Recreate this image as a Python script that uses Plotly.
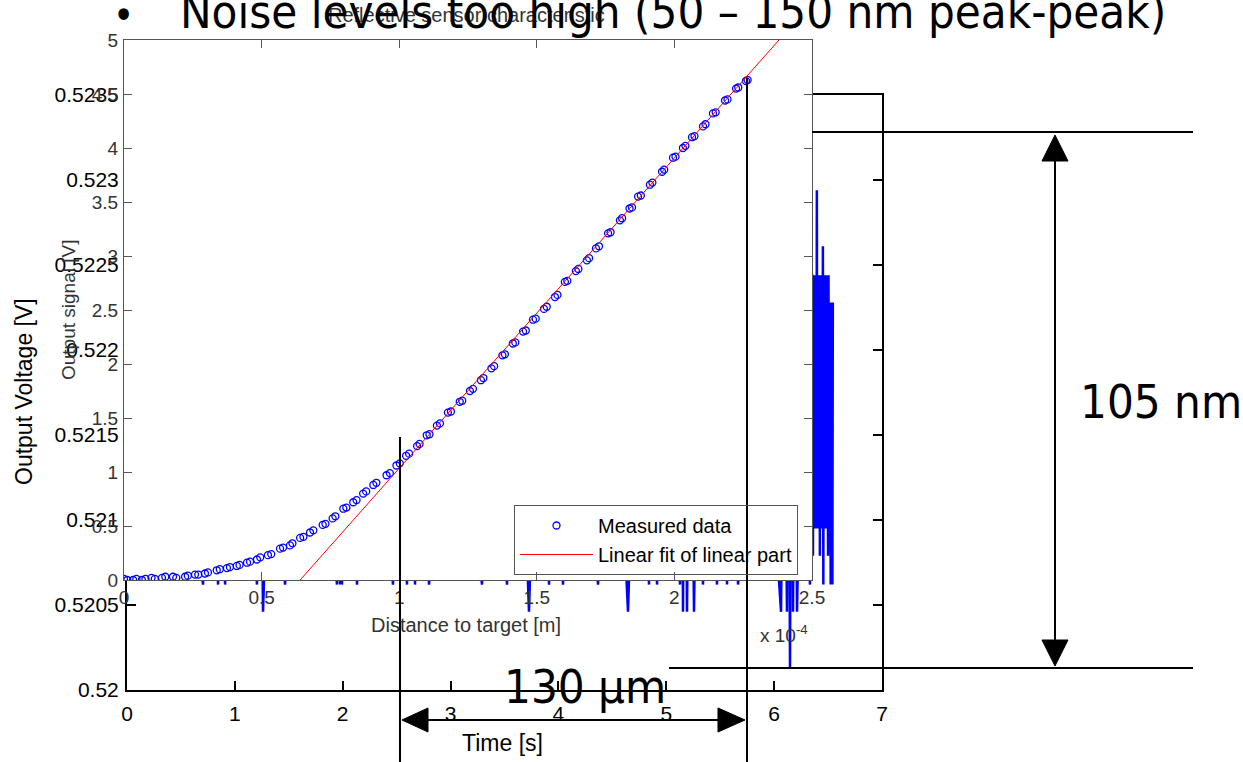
import plotly.graph_objects as go

W, H = 1243, 762

# reflective sensor characteristic, distance in units of 1e-4 m
dist_run1 = [0.000, 0.033, 0.065, 0.100, 0.138, 0.178, 0.222, 0.258, 0.294, 0.337,
             0.374, 0.410, 0.447, 0.483, 0.523, 0.567, 0.603, 0.640, 0.676, 0.722,
             0.758, 0.797, 0.833, 0.869, 0.906, 0.954, 0.990, 1.025, 1.065, 1.100,
             1.137, 1.177, 1.220, 1.257, 1.297, 1.335, 1.375, 1.413, 1.450, 1.486,
             1.526, 1.566, 1.602, 1.642, 1.682, 1.715, 1.759, 1.802, 1.837, 1.868,
             1.911, 1.955, 1.995, 2.031, 2.064, 2.104, 2.140, 2.184, 2.224, 2.260]
volt_run1 = [0.01, 0.00, 0.00, 0.02, 0.02, 0.03, 0.03, 0.05, 0.06, 0.09,
             0.11, 0.13, 0.16, 0.19, 0.23, 0.29, 0.32, 0.39, 0.44, 0.51,
             0.57, 0.66, 0.72, 0.80, 0.88, 0.97, 1.06, 1.15, 1.24, 1.34,
             1.43, 1.55, 1.65, 1.75, 1.85, 1.96, 2.08, 2.19, 2.30, 2.41,
             2.51, 2.62, 2.76, 2.86, 2.96, 3.07, 3.21, 3.33, 3.44, 3.55,
             3.66, 3.78, 3.91, 4.00, 4.10, 4.20, 4.32, 4.44, 4.55, 4.62]
dist_run2 = [0.012, 0.045, 0.078, 0.112, 0.150, 0.190, 0.232, 0.270, 0.305, 0.348,
             0.385, 0.420, 0.458, 0.495, 0.535, 0.578, 0.612, 0.652, 0.688, 0.732,
             0.768, 0.808, 0.845, 0.880, 0.917, 0.966, 1.002, 1.036, 1.074, 1.110,
             1.148, 1.188, 1.229, 1.268, 1.306, 1.345, 1.384, 1.422, 1.460, 1.496,
             1.536, 1.575, 1.611, 1.651, 1.690, 1.726, 1.768, 1.810, 1.846, 1.878,
             1.920, 1.963, 2.004, 2.040, 2.073, 2.113, 2.150, 2.193, 2.232, 2.266]
volt_run2 = [0.00, 0.01, 0.01, 0.01, 0.03, 0.02, 0.04, 0.05, 0.07, 0.10,
             0.12, 0.14, 0.17, 0.21, 0.24, 0.30, 0.34, 0.40, 0.46, 0.52,
             0.59, 0.67, 0.74, 0.82, 0.90, 0.99, 1.08, 1.17, 1.26, 1.35,
             1.45, 1.56, 1.66, 1.77, 1.87, 1.98, 2.09, 2.20, 2.31, 2.42,
             2.53, 2.64, 2.77, 2.88, 2.98, 3.09, 3.22, 3.35, 3.45, 3.56,
             3.68, 3.80, 3.92, 4.02, 4.11, 4.22, 4.33, 4.45, 4.56, 4.63]

# linear fit of the linear part
fit_dist = [0.64, 2.38]
fit_volt = [0.0, 5.0]

dist_ticks = [0, 0.5, 1, 1.5, 2, 2.5]
dist_labels = ["0", "0.5", "1", "1.5", "2", "2.5"]
signal_ticks = [0, 0.5, 1, 1.5, 2, 2.5, 3, 3.5, 4, 4.5, 5]
signal_labels = ["0", "0.5", "1", "1.5", "2", "2.5", "3", "3.5", "4", "4.5", "5"]

# noise record (mostly hidden behind the sensor plot)
noise_t = [0.000, 0.350, 0.705, 0.780, 0.844, 0.880, 0.909, 1.050, 1.205, 1.230,
           1.261, 1.360, 1.465, 1.700, 1.947, 1.960, 1.975, 1.984, 1.993, 2.060,
           2.132, 2.300, 2.466, 2.530, 2.596, 2.630, 2.670, 2.740, 2.800, 3.050,
           3.291, 3.400, 3.523, 3.620, 3.727, 3.820, 3.913, 3.980, 4.042, 4.200,
           4.367, 4.500, 4.645, 4.740, 4.840, 4.880, 4.914, 5.020, 5.127, 5.141,
           5.155, 5.173, 5.192, 5.225, 5.257, 5.300, 5.340, 5.400, 5.470, 5.520,
           5.563, 5.610, 5.665, 5.860, 6.064, 6.090, 6.119, 6.133, 6.147, 6.161,
           6.175, 6.193, 6.212, 6.270, 6.332, 6.342,
           6.352, 6.356, 6.360, 6.364, 6.368, 6.372, 6.376, 6.380, 6.384, 6.388,
           6.392, 6.396, 6.400, 6.404, 6.408, 6.412, 6.416, 6.420, 6.424, 6.428,
           6.432, 6.436, 6.440, 6.444, 6.448, 6.452, 6.456, 6.460, 6.464, 6.468,
           6.472, 6.476, 6.480, 6.484, 6.488, 6.492, 6.496, 6.500, 6.504, 6.508,
           6.512, 6.516, 6.520, 6.524, 6.528, 6.532, 6.536, 6.540, 6.544]
noise_v = [0.52180, 0.52244, 0.52062, 0.52244, 0.52062, 0.52244, 0.52062, 0.52244, 0.52062, 0.52244,
           0.52046, 0.52244, 0.52062, 0.52244, 0.52062, 0.52244, 0.52062, 0.52244, 0.52062, 0.52244,
           0.52062, 0.52244, 0.52062, 0.52244, 0.52062, 0.52244, 0.52062, 0.52244, 0.52062, 0.52244,
           0.52062, 0.52244, 0.52062, 0.52244, 0.52046, 0.52244, 0.52062, 0.52244, 0.52062, 0.52244,
           0.52062, 0.52244, 0.52046, 0.52244, 0.52062, 0.52244, 0.52062, 0.52244, 0.52062, 0.52244,
           0.52046, 0.52244, 0.52046, 0.52244, 0.52046, 0.52244, 0.52062, 0.52244, 0.52062, 0.52244,
           0.52062, 0.52244, 0.52062, 0.52244, 0.52046, 0.52244, 0.52046, 0.52244, 0.52013, 0.52244,
           0.52046, 0.52244, 0.52046, 0.52244, 0.52062, 0.52244,
           0.52244, 0.52095, 0.52079, 0.52244, 0.52112, 0.52244, 0.52095, 0.52228, 0.52112, 0.52244,
           0.52095, 0.52294, 0.52112, 0.52244, 0.52095, 0.52228, 0.52112, 0.52244, 0.52079, 0.52244,
           0.52095, 0.52228, 0.52112, 0.52244, 0.52095, 0.52261, 0.52062, 0.52244, 0.52112, 0.52244,
           0.52095, 0.52228, 0.52112, 0.52244, 0.52095, 0.52244, 0.52112, 0.52079, 0.52244, 0.52095,
           0.52228, 0.52112, 0.52228, 0.52062, 0.52228, 0.52112, 0.52228, 0.52062, 0.52228]

time_ticks = [0, 1, 2, 3, 4, 5, 6, 7]
volt_ticks = [0.52, 0.5205, 0.521, 0.5215, 0.522, 0.5225, 0.523, 0.5235]
volt_labels = ["0.52", "0.5205", "0.521", "0.5215", "0.522", "0.5225", "0.523", "0.5235"]

AX = "Liberation Sans"
SLIDE = "DejaVu Sans Condensed, DejaVu Sans"


# screen pixel -> paper fraction
def px(x):
    return x / W


def py(y):
    return 1 - y / H


fig = go.Figure()

# noise chart (back)
fig.add_trace(go.Scatter(x=noise_t, y=noise_v, mode="lines", xaxis="x", yaxis="y",
                         line=dict(color="#0000ff", width=2.5), showlegend=False,
                         hoverinfo="skip"))

# sensor characteristic (front)
fig.add_trace(go.Scatter(x=dist_run1 + dist_run2, y=volt_run1 + volt_run2, mode="markers",
                         xaxis="x2", yaxis="y2", name="Measured data",
                         marker=dict(symbol="circle-open", size=7, color="#0000ff",
                                     line=dict(width=1.3, color="#0000ff"))))
fig.add_trace(go.Scatter(x=fit_dist, y=fit_volt, mode="lines", xaxis="x2", yaxis="y2",
                         name="Linear fit of linear part",
                         line=dict(color="#ff0000", width=1)))

back_axis = dict(showline=True, linecolor="black", linewidth=2, mirror="ticks",
                 ticks="inside", ticklen=9, tickwidth=1.5, tickcolor="black",
                 tickfont=dict(family=AX, size=21, color="black"),
                 showgrid=False, zeroline=False)
front_axis = dict(showline=True, linecolor="#555", linewidth=1, mirror="ticks",
                  ticks="inside", ticklen=8, tickwidth=1, tickcolor="#555",
                  tickfont=dict(family=AX, size=19, color="#333"),
                  showgrid=False, zeroline=False)

fig.update_layout(
    width=W, height=H, autosize=False,
    margin=dict(l=0, r=0, t=0, b=0, pad=0, autoexpand=False),
    paper_bgcolor="white", plot_bgcolor="white",
    xaxis=dict(back_axis, domain=[px(127), px(882)], range=[0, 7], anchor="y",
               tickvals=time_ticks, ticklabelstandoff=4),
    yaxis=dict(back_axis, domain=[py(690), py(95)], range=[0.52, 0.5235], anchor="x",
               tickvals=volt_ticks, ticktext=volt_labels, ticklabelstandoff=2),
    xaxis2=dict(front_axis, domain=[px(124), px(812)], range=[0, 2.5], anchor="y2",
                tickvals=dist_ticks, ticktext=dist_labels, ticklabelstandoff=0),
    yaxis2=dict(front_axis, domain=[py(580), py(40)], range=[0, 5], anchor="x2",
                tickvals=signal_ticks, ticktext=signal_labels, ticklabelstandoff=1),
    legend=dict(x=px(514), y=py(505), xanchor="left", yanchor="top",
                bgcolor="rgba(255,255,255,0)", bordercolor="#555", borderwidth=1,
                font=dict(family=AX, size=20, color="black"), itemwidth=73),
)

ann = [
    dict(x=px(466), y=py(15), text="Reflective sensor characteristic",
         font=dict(family=AX, size=20, color="#333")),
    dict(x=px(466), y=py(625), text="Distance to target [m]",
         font=dict(family=AX, size=20, color="#333")),
    dict(x=px(68), y=py(310), text="Output signal [V]", textangle=-90,
         font=dict(family=AX, size=19, color="#333")),
    dict(x=px(784), y=py(634), text="x 10<sup>-4</sup>",
         font=dict(family=AX, size=19, color="#333")),
    dict(x=px(24), y=py(392), text="Output Voltage [V]", textangle=-90,
         font=dict(family=AX, size=23, color="black")),
    dict(x=px(502), y=py(743), text="Time [s]",
         font=dict(family=AX, size=23, color="black")),
    dict(x=px(123), y=py(15), text="•", font=dict(family=SLIDE, size=40, color="black")),
    dict(x=px(178), y=py(41), xanchor="left", yanchor="bottom",
         text="Noise levels too high (50 – 150 nm peak-peak)",
         font=dict(family=SLIDE, size=47, color="black")),
    dict(x=px(585), y=py(716), yanchor="bottom", text="130 µm",
         font=dict(family=SLIDE, size=47, color="black")),
    dict(x=px(1161), y=py(431), yanchor="bottom", text="105 nm",
         font=dict(family=SLIDE, size=47, color="black")),
]
for a in ann:
    a.setdefault("xref", "paper")
    a.setdefault("yref", "paper")
    a.setdefault("xanchor", "center")
    a.setdefault("yanchor", "middle")
    a.setdefault("showarrow", False)
fig.update_layout(annotations=ann)

line = dict(color="black", width=2)


def seg(x0, y0, x1, y1):
    return dict(type="line", xref="paper", yref="paper", layer="above",
                x0=px(x0), y0=py(y0), x1=px(x1), y1=py(y1), line=line)


def tri(pts):
    path = "M " + " L ".join(f"{px(a):.5f},{py(b):.5f}" for a, b in pts) + " Z"
    return dict(type="path", xref="paper", yref="paper", layer="above", path=path,
                fillcolor="black", line=dict(color="black", width=1))


shapes = [
    seg(400, 437, 400, 762),
    seg(747, 78, 747, 762),
    seg(425, 720, 720, 720),
    tri([(402, 720), (428, 708), (428, 732)]),
    tri([(745, 720), (718, 708), (718, 732)]),
    seg(812, 132, 1193, 132),
    seg(669, 668, 1193, 668),
    seg(1055, 158, 1055, 642),
    tri([(1055, 135), (1042, 161), (1068, 161)]),
    tri([(1055, 666), (1042, 640), (1068, 640)]),
]
fig.update_layout(shapes=shapes)

# drop the default page margin so the figure sits at the window corner
fig.write_html("out.html", config={"displayModeBar": False},
               post_script="document.body.style.margin = '0';")
